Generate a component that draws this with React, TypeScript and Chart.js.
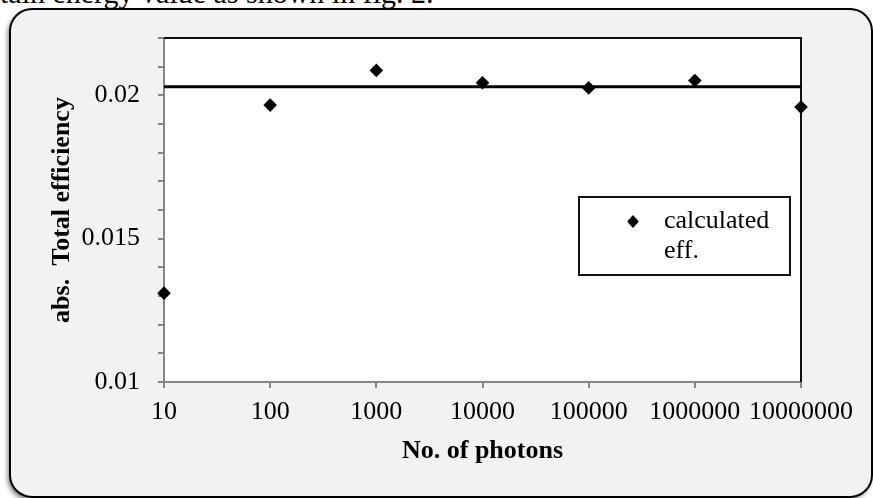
import { useEffect, useRef } from "react";
import { Chart, registerables } from "chart.js";

Chart.register(...registerables);

// Number of simulated photons (log axis) and the efficiency computed for each run
const photonCounts = [10, 100, 1000, 10000, 100000, 1000000, 10000000];
const calculatedEff = [0.0131, 0.01966, 0.02087, 0.02044, 0.02026, 0.02052, 0.01959];
// Reference efficiency drawn as a flat line across the whole range
const referenceEff = 0.0203;
// Labelled y ticks (minor ticks every 0.001 stay unlabelled)
const yTickLabels = [0.01, 0.015, 0.02];
const legendLines = ["calculated", "eff."];
const xTitle = "No. of photons";
const yTitle = "abs.  Total efficiency";
const captionText = "tain energy value as shown in fig. 2.";

const SERIF = '"Liberation Serif", "Times New Roman", Times, serif';
const AXIS_GREY = "#868686";

const framePlugin = {
  id: "frame",
  beforeDraw(chart: any) {
    const { ctx, chartArea } = chart;
    ctx.save();
    // rounded panel behind the chart
    ctx.beginPath();
    ctx.roundRect(10, 9, 862, 488, 22);
    ctx.shadowColor = "rgba(0,0,0,0.55)";
    ctx.shadowBlur = 5;
    ctx.shadowOffsetX = -2;
    ctx.shadowOffsetY = 3;
    ctx.fillStyle = "#f2f2f2";
    ctx.fill();
    ctx.shadowColor = "transparent";
    ctx.lineWidth = 2;
    ctx.strokeStyle = "#000";
    ctx.stroke();
    // white plot area
    ctx.fillStyle = "#fff";
    ctx.fillRect(chartArea.left, chartArea.top, chartArea.right - chartArea.left, chartArea.bottom - chartArea.top);
    ctx.restore();
  },
  beforeDatasetsDraw(chart: any) {
    const { ctx, chartArea } = chart;
    ctx.save();
    ctx.strokeStyle = "#111";
    ctx.lineWidth = 2;
    ctx.beginPath();
    ctx.moveTo(chartArea.left, chartArea.top);
    ctx.lineTo(chartArea.right, chartArea.top);
    ctx.lineTo(chartArea.right, chartArea.bottom);
    ctx.stroke();
    ctx.restore();
  },
  afterDraw(chart: any) {
    const { ctx } = chart;
    ctx.save();
    // legend box
    ctx.fillStyle = "#fff";
    ctx.fillRect(579, 197, 211, 78);
    ctx.strokeStyle = "#111";
    ctx.lineWidth = 2;
    ctx.strokeRect(579, 197, 211, 78);
    // legend marker (diamond)
    const mx = 633, my = 221.5, r = 6.5;
    ctx.fillStyle = "#000";
    ctx.beginPath();
    ctx.moveTo(mx, my - r);
    ctx.lineTo(mx + r * 0.9, my);
    ctx.lineTo(mx, my + r);
    ctx.lineTo(mx - r * 0.9, my);
    ctx.closePath();
    ctx.fill();
    ctx.font = `26px ${SERIF}`;
    ctx.textBaseline = "middle";
    ctx.textAlign = "left";
    legendLines.forEach((line, i) => ctx.fillText(line, 664, 221.5 + i * 30));
    ctx.restore();
  },
};

export default function App() {
  const canvasRef = useRef<HTMLCanvasElement | null>(null);

  useEffect(() => {
    const canvas = canvasRef.current;
    if (!canvas) return;
    Chart.defaults.font.family = SERIF;
    Chart.defaults.color = "#000";

    const chart = new Chart(canvas, {
      type: "scatter",
      data: {
        datasets: [
          {
            type: "line",
            label: "reference",
            data: [
              { x: photonCounts[0], y: referenceEff },
              { x: photonCounts[photonCounts.length - 1], y: referenceEff },
            ],
            borderColor: "#000",
            borderWidth: 3,
            pointRadius: 0,
            fill: false,
            clip: false as any,
            order: 2,
          },
          {
            label: "calculated eff.",
            data: photonCounts.map((x, i) => ({ x, y: calculatedEff[i] })),
            pointStyle: "rectRot",
            pointRadius: 6.8,
            backgroundColor: "#000",
            borderColor: "#000",
            borderWidth: 0,
            clip: false as any,
            order: 1,
          },
        ],
      },
      options: {
        responsive: false,
        animation: false,
        devicePixelRatio: 1,
        layout: { padding: { left: 0, right: 72, top: 38, bottom: 0 } },
        plugins: {
          legend: { display: false },
          tooltip: { enabled: false },
        },
        scales: {
          x: {
            type: "logarithmic",
            min: 10,
            max: 10000000,
            afterBuildTicks: (scale: any) => {
              scale.ticks = photonCounts.map((v) => ({ value: v }));
            },
            afterFit: (scale: any) => {
              scale.height = 116;
            },
            ticks: {
              autoSkip: false,
              maxRotation: 0,
              padding: 9,
              font: { size: 26 },
              color: "#000",
              callback: (v: any) => String(v),
            },
            grid: {
              drawOnChartArea: false,
              drawTicks: true,
              tickLength: 6,
              color: AXIS_GREY,
              lineWidth: 2,
            },
            border: { display: true, color: AXIS_GREY, width: 2 },
            title: {
              display: true,
              text: xTitle,
              font: { size: 26, weight: "bold" },
              color: "#000",
              padding: { top: 0, bottom: 31 },
            },
          },
          y: {
            min: 0.01,
            max: 0.022,
            afterFit: (scale: any) => {
              scale.width = 164;
            },
            ticks: {
              stepSize: 0.001,
              autoSkip: false,
              padding: 18,
              font: { size: 26 },
              color: "#000",
              callback: (v: any) => {
                const hit = yTickLabels.find((t) => Math.abs(t - Number(v)) < 1e-9);
                return hit !== undefined ? String(hit) : "";
              },
            },
            grid: {
              drawOnChartArea: false,
              drawTicks: true,
              tickLength: 6,
              color: AXIS_GREY,
              lineWidth: 2,
            },
            border: { display: true, color: AXIS_GREY, width: 2 },
            title: {
              display: true,
              text: yTitle,
              font: { size: 26, weight: "bold" },
              color: "#000",
              padding: { top: 47, bottom: 0 },
            },
          },
        },
      },
      plugins: [framePlugin],
    } as any);

    return () => chart.destroy();
  }, []);

  return (
    <div
      style={{
        position: "fixed",
        left: 0,
        top: 0,
        width: 873,
        height: 498,
        overflow: "hidden",
        background: "#fff",
      }}
    >
      <div
        style={{
          position: "absolute",
          left: 0,
          top: -22,
          fontFamily: SERIF,
          fontSize: 30,
          lineHeight: "30px",
          whiteSpace: "pre",
          color: "#000",
        }}
      >
        {captionText}
      </div>
      <canvas
        ref={canvasRef}
        width={873}
        height={498}
        style={{ position: "absolute", left: 0, top: 0, width: 873, height: 498 }}
      />
    </div>
  );
}
